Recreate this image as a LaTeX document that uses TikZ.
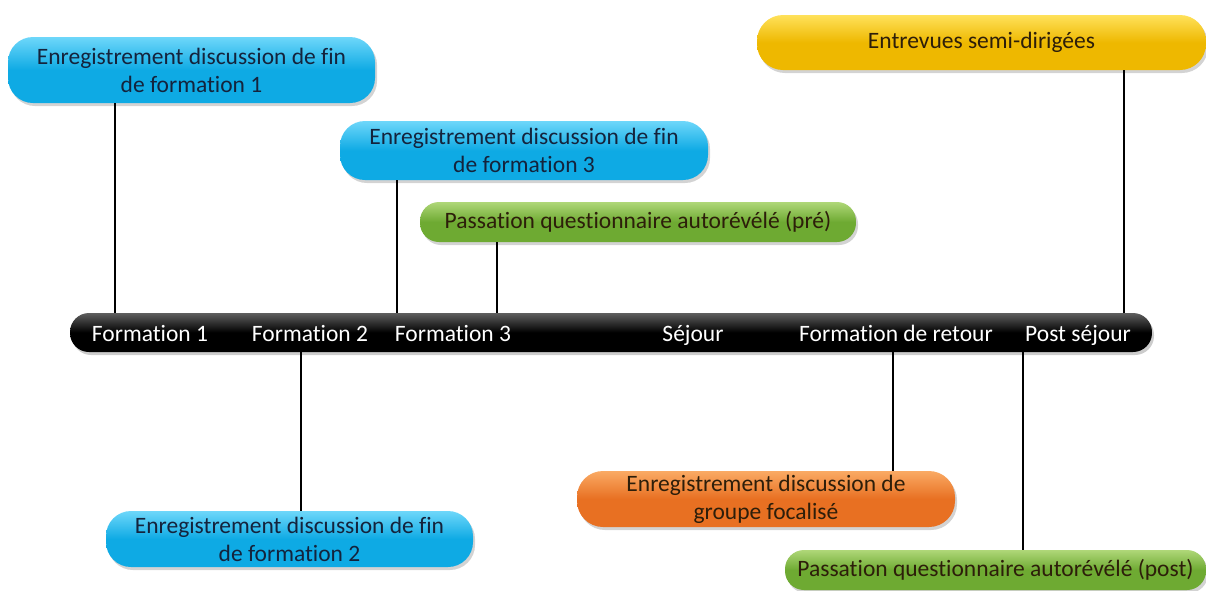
\documentclass[tikz,border=0pt]{standalone}
\usepackage{fontspec}
\setmainfont{Carlito}[Ligatures={NoCommon}]
\usetikzlibrary{shadows}
\definecolor{cyanbase}{RGB}{14,170,228}
\definecolor{cyanlight}{RGB}{110,215,250}
\definecolor{yelbase}{RGB}{238,184,0}
\definecolor{yellight}{RGB}{255,225,90}
\definecolor{orgbase}{RGB}{232,112,34}
\definecolor{orglight}{RGB}{250,170,100}
\definecolor{grnbase}{RGB}{110,170,50}
\definecolor{grnlight}{RGB}{175,215,120}
\definecolor{bartop}{RGB}{95,95,95}
\definecolor{navytext}{RGB}{20,35,60}
\definecolor{darktext}{RGB}{45,30,10}
\begin{document}
\begin{tikzpicture}[x=1pt,y=-1pt,
  pill/.style={rounded corners=#1, inner sep=0pt, align=center,
    font=\fontsize{23.5}{28}\selectfont,
    drop shadow={opacity=0.35, shadow xshift=2pt, shadow yshift=-3pt}},
  cyanpill/.style={pill=25pt, top color=cyanlight, bottom color=cyanbase, middle color=cyanbase, text=navytext},
  yelpill/.style={pill=26pt, top color=yellight, bottom color=yelbase, middle color=yelbase, text=darktext},
  orgpill/.style={pill=26pt, top color=orglight, bottom color=orgbase, middle color=orgbase, text=darktext},
  grnpill/.style={pill=19pt, top color=grnlight, bottom color=grnbase, middle color=grnbase, text=darktext},
  barlabel/.style={text=white, font=\fontsize{23.5}{28}\selectfont, anchor=base, inner sep=0pt},
  link/.style={draw=black, line width=1.2pt}]
\useasboundingbox (0,0) rectangle (1206,590);

% time line
\node[rounded corners=19pt, minimum width=1082pt, minimum height=39pt,
  top color=bartop, bottom color=black, middle color=black,
  drop shadow={opacity=0.4, shadow xshift=2pt, shadow yshift=-3pt}] (bar) at (611,332.5) {};
\node[barlabel] (l1) at (150,341) {Formation 1};
\node[barlabel] (l2) at (310,341) {Formation 2};
\node[barlabel] (l3) at (453,341) {Formation 3};
\node[barlabel] (l4) at (693,341) {Séjour};
\node[barlabel] (l5) at (896,341) {Formation de retour};
\node[barlabel] (l6) at (1078,341) {Post séjour};

% anchor points on the bar edges
\coordinate (t1) at (115,313);
\coordinate (t3) at (397,313);
\coordinate (tpre) at (497,313);
\coordinate (tint) at (1124,313);
\coordinate (u2) at (301,352);
\coordinate (ufoc) at (893,352);
\coordinate (upost) at (1023,352);

% events
\node[cyanpill, minimum width=367pt, minimum height=66pt] (b1) at (191.5,70)
  {Enregistrement discussion de fin\\de formation 1};
\node[cyanpill, minimum width=368pt, minimum height=59pt] (b3) at (524,150.5)
  {Enregistrement discussion de fin\\de formation 3};
\node[grnpill, minimum width=436pt, minimum height=40pt] (gpre) at (638,222)
  {Passation questionnaire autorévélé (pré)};
\node[yelpill, minimum width=449pt, minimum height=55pt] (yel) at (981.5,42.5)
  {Entrevues semi-dirigées};
\node[cyanpill, minimum width=367pt, minimum height=56pt] (b2) at (289.5,539)
  {Enregistrement discussion de fin\\de formation 2};
\node[orgpill, minimum width=378pt, minimum height=56pt] (org) at (766,499)
  {Enregistrement discussion de\\groupe focalisé};
\node[grnpill, minimum width=421pt, minimum height=40pt] (gpost) at (995.5,570)
  {Passation questionnaire autorévélé (post)};

% connectors
\draw[link] (b1.south -| t1) -- (t1);
\draw[link] (b3.south -| t3) -- (t3);
\draw[link] (gpre.south -| tpre) -- (tpre);
\draw[link] (yel.south -| tint) -- (tint);
\draw[link] (u2) -- (b2.north -| u2);
\draw[link] (ufoc) -- (org.north -| ufoc);
\draw[link] (upost) -- (gpost.north -| upost);
\end{tikzpicture}
\end{document}
